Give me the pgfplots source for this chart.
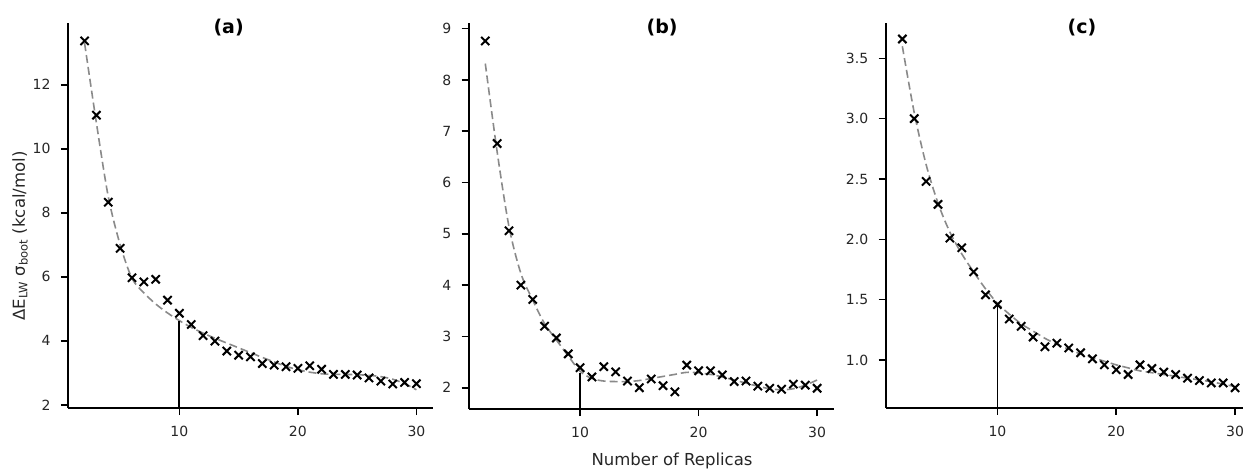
\documentclass[border=0pt]{standalone}
\usepackage{pgfplots}
\pgfplotsset{compat=1.18}
\usepackage{fontspec}
\setmainfont{DejaVu Sans}
\definecolor{tickgray}{HTML}{262626}
\definecolor{fitgray}{HTML}{8A8A8A}

\pgfplotsset{
  panel/.style={
    scale only axis,
    axis x line*=bottom, axis y line*=left,
    axis line style={line width=1.6pt, black},
    tick style={line width=1.6pt, black},
    tick align=outside, major tick length=7pt,
    xmin=0.6, xmax=31.4,
    xtick={10,20,30},
    tick label style={font=\fontsize{14}{15}\selectfont, text=tickgray},
    xticklabel style={yshift=-8pt},
    yticklabel style={xshift=-7pt},
    /pgf/number format/assume math mode=true,
    clip=false,
  },
  pts/.style={only marks, mark=x, mark size=5.8pt, line width=2pt, black},
  fit/.style={no marks, fitgray, line width=1.6pt, dash pattern=on 8pt off 4pt, smooth, tension=0.5},
  vline/.style={black, line width=1.8pt, no marks},
}

\begin{document}
\begin{tikzpicture}
\path[use as bounding box] (0pt,0pt) rectangle (1243pt,-472pt);

% ---------------- (a)
\begin{axis}[panel, at={(68pt,-408pt)}, anchor=south west, width=365pt, height=385pt,
  ymin=1.9, ymax=13.93, ytick={2,4,6,8,10,12}]
\addplot[fit] coordinates {(2,13.3) (3,10.8) (4,8.5) (5,7.0) (6,5.95) (7,5.5) (8,5.15) (9,4.87) (10,4.63) (11,4.42) (12,4.24) (13,4.08) (14,3.93) (15,3.78) (16,3.63) (17,3.48) (18,3.34) (19,3.2) (20,3.1) (21,3.02) (22,2.97) (23,2.95) (24,2.95) (25,2.94) (26,2.92) (27,2.88) (28,2.8) (29,2.66) (30,2.47)};
\addplot[vline] coordinates {(10,1.9) (10,4.63)};
\addplot[pts] coordinates {(2,13.37) (3,11.05) (4,8.33) (5,6.89) (6,5.97) (7,5.84) (8,5.92) (9,5.27) (10,4.86) (11,4.51) (12,4.16) (13,3.99) (14,3.68) (15,3.55) (16,3.50) (17,3.29) (18,3.24) (19,3.19) (20,3.14) (21,3.22) (22,3.11) (23,2.95) (24,2.95) (25,2.93) (26,2.84) (27,2.74) (28,2.65) (29,2.70) (30,2.66)};
\node[font=\bfseries\fontsize{19}{20}\selectfont] at (rel axis cs:0.44,0.987) {(a)};
\end{axis}

% ---------------- (b)
\begin{axis}[panel, at={(468.7pt,-409pt)}, anchor=south west, width=365pt, height=386pt,
  ymin=1.585, ymax=9.11, ytick={2,3,4,5,6,7,8,9}]
\addplot[fit] coordinates {(2,8.32) (3,6.6) (4,5.14) (5,4.23) (6,3.71) (7,3.25) (8,2.93) (9,2.62) (10,2.32) (11,2.18) (12,2.13) (13,2.12) (14,2.12) (15,2.14) (16,2.18) (17,2.22) (18,2.26) (19,2.3) (20,2.29) (21,2.26) (22,2.21) (23,2.15) (24,2.09) (25,2.03) (26,1.98) (27,1.96) (28,1.98) (29,2.05) (30,2.15)};
\addplot[vline] coordinates {(10,1.585) (10,2.29)};
\addplot[pts] coordinates {(2,8.76) (3,6.76) (4,5.06) (5,4.00) (6,3.72) (7,3.20) (8,2.97) (9,2.66) (10,2.39) (11,2.21) (12,2.41) (13,2.31) (14,2.13) (15,2.00) (16,2.17) (17,2.04) (18,1.92) (19,2.44) (20,2.33) (21,2.33) (22,2.25) (23,2.12) (24,2.13) (25,2.03) (26,1.99) (27,1.97) (28,2.07) (29,2.05) (30,1.99)};
\node[font=\bfseries\fontsize{19}{20}\selectfont] at (rel axis cs:0.53,0.987) {(b)};
\end{axis}

% ---------------- (c)
\begin{axis}[panel, at={(885.7pt,-407.7pt)}, anchor=south west, width=366pt, height=385pt,
  ymin=0.605, ymax=3.795, ytick={1.0,1.5,2.0,2.5,3.0,3.5},
  yticklabel style={/pgf/number format/.cd, fixed, fixed zerofill, precision=1}]
\addplot[fit] coordinates {(2,3.6) (3,3.05) (4,2.62) (5,2.3) (6,2.06) (7,1.88) (8,1.73) (9,1.59) (10,1.47) (11,1.38) (12,1.3) (13,1.24) (14,1.18) (15,1.13) (16,1.09) (17,1.05) (18,1.02) (19,0.99) (20,0.96) (21,0.935) (22,0.91) (23,0.895) (24,0.88) (25,0.865) (26,0.85) (27,0.835) (28,0.82) (29,0.80) (30,0.78)};
\addplot[vline] coordinates {(10,0.605) (10,1.46)};
\addplot[pts] coordinates {(2,3.66) (3,3.00) (4,2.48) (5,2.29) (6,2.01) (7,1.93) (8,1.73) (9,1.54) (10,1.46) (11,1.34) (12,1.28) (13,1.19) (14,1.11) (15,1.14) (16,1.10) (17,1.06) (18,1.01) (19,0.96) (20,0.92) (21,0.88) (22,0.96) (23,0.93) (24,0.90) (25,0.88) (26,0.85) (27,0.83) (28,0.81) (29,0.81) (30,0.77)};
\node[font=\bfseries\fontsize{19}{20}\selectfont] at (rel axis cs:0.536,0.987) {(c)};
\end{axis}

% figure-level labels
\node[font=\fontsize{16.5}{17}\selectfont, text=tickgray] at (672pt,-461pt) {Number of Replicas};
\node[font=\fontsize{16.5}{17}\selectfont, text=tickgray, rotate=90] at (20pt,-236pt)
  {ΔE\textsubscript{LW} σ\textsubscript{boot} (kcal/mol)};
\end{tikzpicture}
\end{document}
